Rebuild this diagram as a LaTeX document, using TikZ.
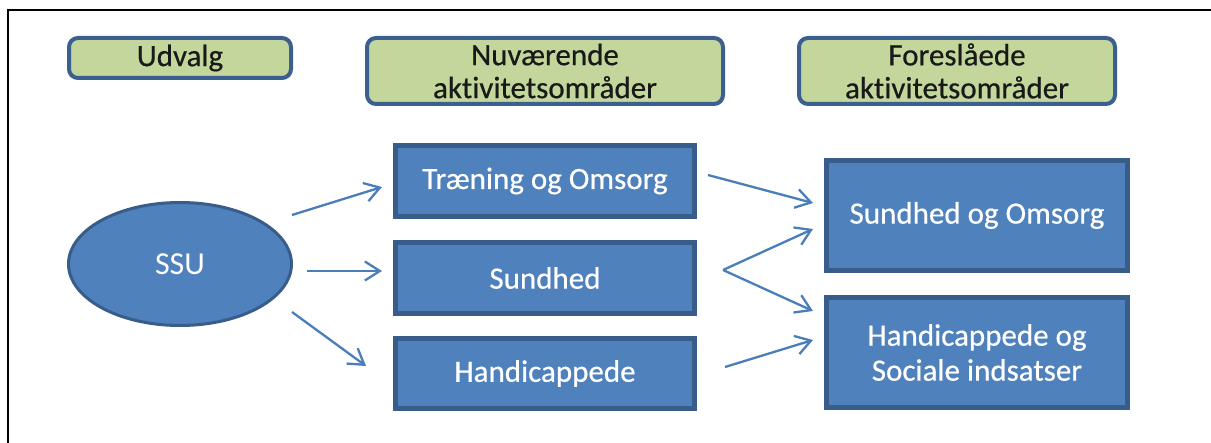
\documentclass[tikz,border=0pt]{standalone}
\usepackage{fontspec}
\setmainfont{Carlito}[Ligatures=NoCommon, BoldFont=Carlito, BoldFeatures={FakeBold=0.5}]
\usetikzlibrary{shapes.geometric,arrows.meta}
\definecolor{hdrfill}{HTML}{C3D69B}
\definecolor{hdrline}{HTML}{3B5F8E}
\definecolor{boxfill}{HTML}{4F81BD}
\definecolor{boxline}{HTML}{385D8A}
\definecolor{arrcol}{HTML}{4A7EBB}
\tikzset{
  hdr/.style={draw=hdrline, fill=hdrfill, line width=4pt, rounded corners=9pt, inner sep=0pt, outer sep=0pt, align=center, text=black!90, font=\fontsize{31}{33}\selectfont\bfseries},
  bluebox/.style={draw=boxline, fill=boxfill, line width=5.5pt, inner sep=0pt, outer sep=0pt, align=center, text=white, font=\fontsize{31}{35}\selectfont\bfseries, minimum width=299pt},
  arr/.style={draw=arrcol, line width=2.3pt, -{Straight Barb[length=15pt,width=19pt,line width=2.3pt]}},
}
\begin{document}
\begin{tikzpicture}[x=1pt,y=-1pt]
\useasboundingbox (0,0) rectangle (1211,443);
% frame
\draw[line width=2.5pt] (8,443) -- (8,10) -- (1211,10);
% headers
\node[hdr, minimum width=222pt, minimum height=40pt] (udv) at (180,58) {Udvalg};
\node[hdr, minimum width=356pt, minimum height=66pt] (nuv) at (545,71) {Nuværende\\aktivitetsområder};
\node[hdr, minimum width=316pt, minimum height=66pt] (for) at (957,71) {Foreslåede\\aktivitetsområder};
% SSU ellipse
\node[ellipse, draw=boxline, fill=boxfill, line width=3pt, inner sep=0pt, outer sep=0pt, minimum width=223pt, minimum height=123pt, text=white, font=\fontsize{32}{36}\selectfont] (ssu) at (180,264) {SSU};
% current areas
\node[bluebox, minimum height=71pt] (tr) at (545,181) {Træning og Omsorg};
\node[bluebox, minimum height=71pt] (su) at (545,278) {Sundhed};
\node[bluebox, minimum height=70pt] (ha) at (545,373.5) {Handicappede};
% proposed areas
\node[bluebox, minimum width=301pt, minimum height=110pt] (soo) at (977,215.5) {Sundhed og Omsorg};
\node[bluebox, minimum width=301pt, minimum height=110pt] (hsi) at (977,352.5) {Handicappede og\\Sociale indsatser};
% arrows
\draw[arr] ([shift={(0.5,-49)}]ssu.east) -- ([shift={(-13.5,6)}]tr.west);
\draw[arr] ([shift={(15.5,7)}]ssu.east) -- ([shift={(-13.5,-7)}]su.west);
\draw[arr] ([shift={(0.5,48)}]ssu.east) -- ([shift={(-29.5,-7.5)}]ha.west);
\draw[arr] ([shift={(13.5,-6)}]tr.east) -- ([shift={(-13.5,-12.5)}]soo.west);
\draw[arr] ([shift={(28.5,-8)}]su.east) -- ([shift={(-13.5,13.5)}]soo.west);
\draw[arr] ([shift={(28.5,-8)}]su.east) -- ([shift={(-13.5,-41.5)}]hsi.west);
\draw[arr] ([shift={(30.5,-6.5)}]ha.east) -- ([shift={(-13.5,-12.5)}]hsi.west);
\end{tikzpicture}
\end{document}
